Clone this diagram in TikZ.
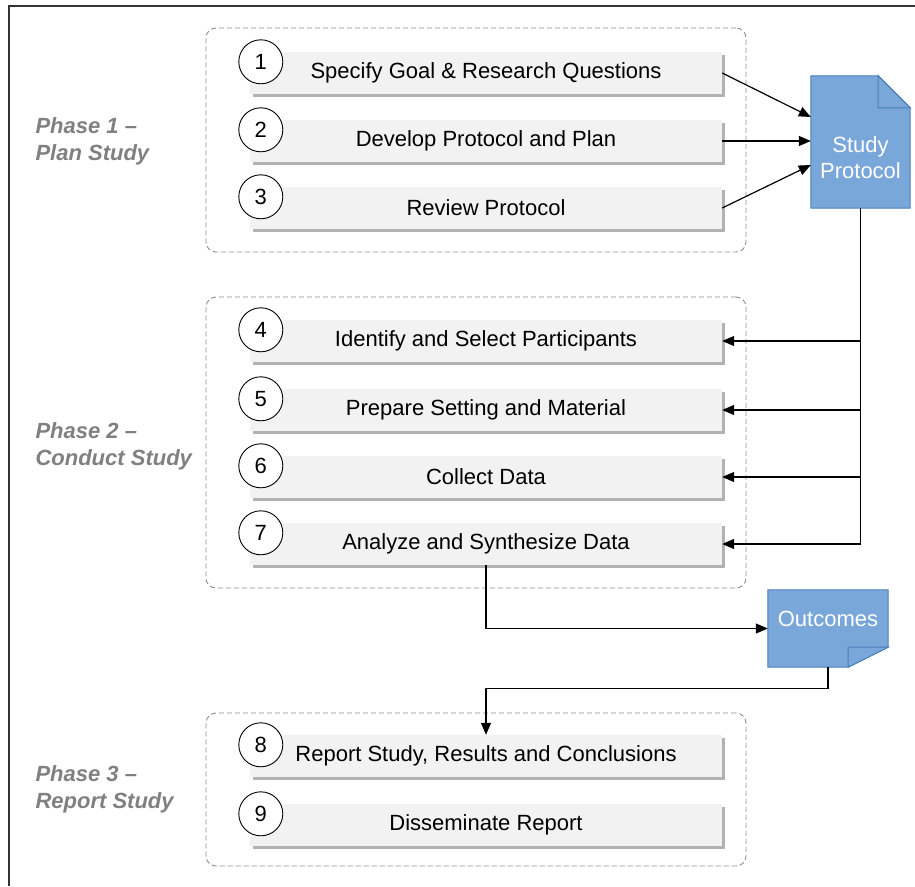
\documentclass[tikz,border=0pt]{standalone}
\usepackage{fontspec}
\setmainfont{Liberation Sans}
\usetikzlibrary{arrows.meta,
                shadows,
                backgrounds}
\definecolor{stepgray}{RGB}{242,242,242}
\definecolor{phasegray}{RGB}{128,128,128}
\definecolor{docblue}{RGB}{122,167,217}
\definecolor{docedge}{RGB}{74,126,187}
\definecolor{framegray}{RGB}{51,51,51}

\begin{document}
\begin{tikzpicture}[x=1pt,y=-1pt,
  every node/.style={font=\fontsize{22}{26}\selectfont},
  group/.style={draw=gray!90,dash pattern=on 5pt off 3pt,line width=0.9pt,rounded corners=10pt,minimum width=540},
  stepbox/.style={fill=stepgray,minimum width=472,minimum height=42,drop shadow={shadow xshift=2.5pt,shadow yshift=-2.5pt,fill=black,opacity=.3}},
  num/.style={circle,draw,fill=white,line width=0.9pt,minimum size=44,inner sep=0pt},
  phase/.style={anchor=west,align=left,text=phasegray,font=\fontsize{22}{27}\selectfont\bfseries\itshape},
  doc/.style={inner sep=0pt},
  doctext/.style={text=white,align=center},
  docshape/.style={fill=docblue,draw=docedge,line width=1pt},
  arr/.style={-{Triangle[length=12pt,width=10pt]},line width=1.2pt}]
 \useasboundingbox (0,0) rectangle (915,886);
 \draw[framegray,line width=2pt] (9,886) -- (9,6) -- (915,6);

 \node[group,minimum height=224] (plan) at (476,140) {};
 \node[group,minimum height=291] (conduct) at (476,442.5) {};
 \node[group,minimum height=153] (report) at (476,789.5) {};

 \node[phase] (p1) at (32,141) {Phase 1 –\\Plan Study};
 \node[phase] (p2) at (32,446) {Phase 2 –\\Conduct Study};
 \node[phase] (p3) at (32,789) {Phase 3 –\\Report Study};

 \foreach \n/\y/\txt in {1/73/{Specify Goal \& Research Questions},
                         2/141/{Develop Protocol and Plan},
                         3/208/{Review Protocol},
                         4/341/{Identify and Select Participants},
                         5/410/{Prepare Setting and Material},
                         6/477/{Collect Data},
                         7/544/{Analyze and Synthesize Data},
                         8/756/{Report Study, Results and Conclusions},
                         9/825/{Disseminate Report}}
 {
   \node[stepbox] (s\n) at (486,\y) {\txt};
   \node[num] (c\n) at ([shift={(11,10)}]s\n.north west) {\n};
 }

 \node[doc,minimum width=99,minimum height=132,
       label={[doctext,yshift=-16pt]center:Study\\Protocol}] (proto) at (860.5,142) {};
 \node[doc,minimum width=120,minimum height=77,
       label={[doctext,yshift=10pt]center:Outcomes}] (out) at (828,628.5) {};
 \begin{scope}[on background layer]
  \filldraw[docshape] (proto.south west) -- (proto.north west) -- ([xshift=-32pt]proto.north east)
    -- ([yshift=-32pt]proto.north east) -- (proto.south east) -- cycle;
  \filldraw[docshape] ([xshift=-32pt]proto.north east) |- ([yshift=-32pt]proto.north east) -- cycle;
  \filldraw[docshape] (out.north west) -- (out.north east) -- ([yshift=20pt]out.south east)
    -- ([xshift=-40pt]out.south east) -- (out.south west) -- cycle;
  \filldraw[docshape] ([xshift=-40pt]out.south east) |- ([yshift=20pt]out.south east) -- cycle;
 \end{scope}

 \draw[arr] (s1.east) -- ([yshift=25pt]proto.west);
 \draw[arr] (s2.east) -- (s2.east -| proto.west);
 \draw[arr] (s3.east) -- ([yshift=-23pt]proto.west);
 \foreach \n in {4,...,7}
   \draw[arr] (proto.south) |- (s\n.east);
 \draw[arr] (s7.south) |- (out.west);
 \draw[arr] (out.south) -- ++(0,21) -| (s8.north);
\end{tikzpicture}
\end{document}
